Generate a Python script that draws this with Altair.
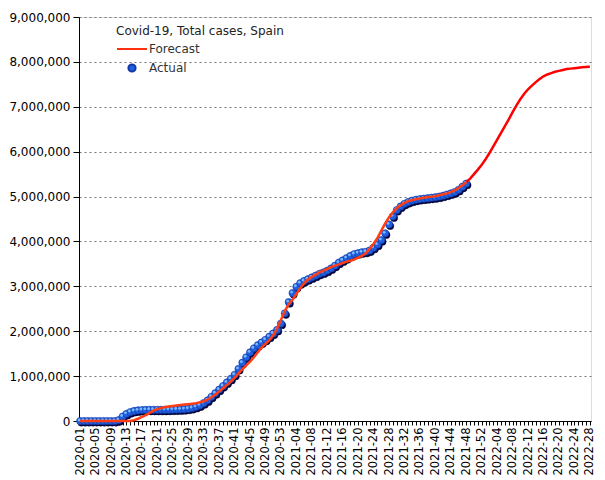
import json
import altair as alt
import pandas as pd

weeks = ([f"2020-{i:02d}" for i in range(1, 54)]
         + [f"2021-{i:02d}" for i in range(1, 53)]
         + [f"2022-{i:02d}" for i in range(1, 29)])
week_labels = weeks[::4]

actual = [
    0, 0, 0, 0, 0, 0, 0, 0, 0, 0,
    20000, 100000, 160000, 200000, 225000, 238000, 245000, 248000, 250000, 250000,
    250000, 250000, 250000, 252000, 254000, 256000, 260000, 265000, 275000, 290000,
    315000, 350000, 400000, 460000, 540000, 620000, 700000, 780000, 860000, 940000,
    1030000, 1160000, 1300000, 1420000, 1530000, 1620000, 1690000, 1750000, 1810000, 1880000,
    1950000, 2030000, 2170000, 2400000, 2650000, 2850000, 2990000, 3070000, 3120000, 3160000,
    3200000, 3240000, 3280000, 3310000, 3350000, 3400000, 3460000, 3530000, 3580000, 3630000,
    3680000, 3720000, 3740000, 3760000, 3770000, 3800000, 3860000, 3930000, 4030000, 4180000,
    4380000, 4560000, 4700000, 4780000, 4840000, 4880000, 4910000, 4930000, 4945000, 4955000,
    4965000, 4975000, 4985000, 5000000, 5020000, 5045000, 5070000, 5100000, 5150000, 5220000,
    5290000,
]

forecast = [
    0, 0, 0, 0, 0, 0, 0, 0, 0, 0,
    0, 0, 0, 0, 20000, 50000, 90000, 130000, 180000, 230000,
    265000, 290000, 310000, 325000, 335000, 345000, 355000, 365000, 375000, 385000,
    395000, 415000, 440000, 475000, 530000, 590000, 660000, 730000, 800000, 880000,
    960000, 1060000, 1150000, 1240000, 1320000, 1420000, 1530000, 1640000, 1720000, 1800000,
    1910000, 2060000, 2250000, 2450000, 2600000, 2700000, 2830000, 2960000, 3070000, 3150000,
    3210000, 3260000, 3310000, 3350000, 3390000, 3430000, 3460000, 3490000, 3520000, 3550000,
    3570000, 3600000, 3640000, 3680000, 3740000, 3840000, 3950000, 4080000, 4240000, 4400000,
    4540000, 4650000, 4740000, 4810000, 4860000, 4900000, 4920000, 4940000, 4960000, 4975000,
    4990000, 4995000, 5010000, 5030000, 5050000, 5070000, 5100000, 5140000, 5190000, 5250000,
    5320000, 5400000, 5500000, 5600000, 5710000, 5830000, 5970000, 6120000, 6270000, 6420000,
    6570000, 6720000, 6880000, 7030000, 7170000, 7290000, 7390000, 7470000, 7550000, 7620000,
    7680000, 7720000, 7750000, 7780000, 7800000, 7820000, 7840000, 7850000, 7860000, 7870000,
    7880000, 7885000, 7890000,
]

LAST_ACTUAL = len(actual) - 1

df_f = pd.DataFrame({"week": weeks, "value": forecast, "idx": range(len(weeks))})
df_a = pd.DataFrame({"week": weeks[:len(actual)], "value": actual, "series": "Actual"})

FONT = "DejaVu Sans"
TITLE = "Covid-19, Total cases, Spain"
series_domain = ["Forecast", "Actual"]

label_expr = ("indexof(" + json.dumps(week_labels) + ", datum.value) >= 0 ? datum.value : ''")

x_enc = alt.X(
    "week:O", sort=weeks,
    scale=alt.Scale(type="point", padding=0.3, domain=weeks),
    axis=alt.Axis(
        title=None, labelExpr=label_expr, labelAngle=270, labelOverlap=False,
        tickSize=4, labelPadding=2, domainColor="#000", tickColor="#000",
        labelFont=FONT, labelFontSize=11.5, labelColor="#000", grid=False,
    ),
)
y_enc = alt.Y(
    "value:Q",
    scale=alt.Scale(domain=[0, 9000000], nice=False),
    axis=alt.Axis(
        title=None, format=",d", values=list(range(0, 9000001, 1000000)),
        tickSize=6, labelPadding=3, domainColor="#000", tickColor="#000",
        labelFont=FONT, labelFontSize=12, labelColor="#000",
        grid=True, gridColor="#777", gridDash=[2, 3], gridWidth=1,
    ),
)

base_a = alt.Chart(df_a)

shadow = base_a.mark_point(filled=True, size=52, opacity=1, xOffset=1.2, yOffset=1.6).encode(
    x=x_enc, y=y_enc, fill=alt.value("#05053a"), stroke=alt.value("#05053a"), strokeWidth=alt.value(0.5)
)

legend = alt.Legend(
    title=TITLE, orient="none", legendX=37, legendY=9,
    titleFont=FONT, titleFontSize=12, titleFontWeight="normal", titleColor="#222",
    labelFont=FONT, labelFontSize=12, labelColor="#333", labelOffset=1,
    symbolStrokeWidth=2, rowPadding=5, titlePadding=-5,
)

main = base_a.mark_point(filled=True, opacity=1, strokeWidth=0.6).encode(
    x=x_enc, y=y_enc,
    fill=alt.Fill("series:N", scale=alt.Scale(domain=series_domain, range=["#ff3010", "#1f5fe0"]), legend=legend),
    stroke=alt.Stroke("series:N", scale=alt.Scale(domain=series_domain, range=["#ff3010", "#1238a8"]), legend=legend),
    shape=alt.Shape("series:N", scale=alt.Scale(domain=series_domain, range=["stroke", "circle"]), legend=legend),
    size=alt.Size("series:N", scale=alt.Scale(domain=series_domain, range=[900, 52]), legend=legend),
)

highlight = base_a.mark_point(filled=True, size=8, opacity=1, xOffset=-1, yOffset=-1).encode(
    x=x_enc, y=y_enc, fill=alt.value("#7ab8ff"), strokeWidth=alt.value(0)
)

base_f = alt.Chart(df_f)
line_fit = base_f.transform_filter(alt.datum.idx <= LAST_ACTUAL).mark_line(
    color="#ff3d14", strokeWidth=2.5
).encode(x=x_enc, y=y_enc)
line_proj = base_f.transform_filter(alt.datum.idx >= LAST_ACTUAL).mark_line(
    color="#ff0000", strokeWidth=2.5
).encode(x=x_enc, y=y_enc)

chart = alt.layer(shadow, main, highlight, line_fit, line_proj).properties(
    width=512, height=404,
    autosize=alt.AutoSizeParams(type="none"),
    padding={"left": 71, "top": 9, "right": 6, "bottom": 59},
).configure_view(stroke=None).configure(background="white")

chart.save("out.html", embed_options={"renderer": "svg", "actions": False})
